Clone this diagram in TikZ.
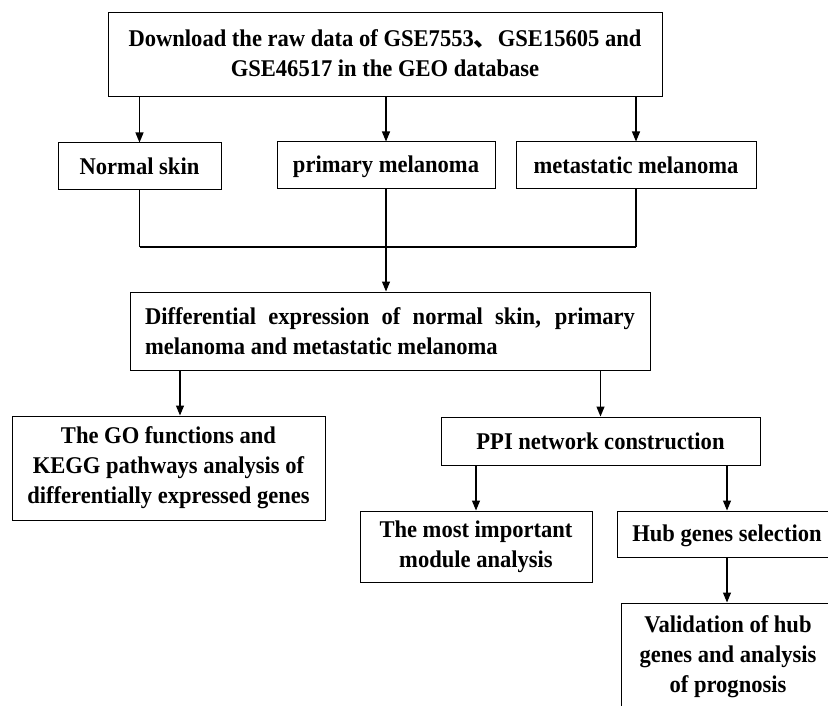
\documentclass[tikz,border=0pt]{standalone}
\usepackage{fontspec}
\setmainfont{Liberation Serif}[FakeStretch=0.94]
\newfontfamily\cjk{Noto Sans CJK SC}
\usetikzlibrary{arrows.meta,calc,positioning}
\newcommand{\boxstrut}{\rule[-4pt]{0pt}{24pt}}

\begin{document}
\begin{tikzpicture}[x=1pt,y=-1pt,>={Triangle[length=10pt,width=8pt]},
  box/.style={draw,line width=1pt,align=center,inner sep=0pt,
    font=\fontsize{24}{30}\selectfont\bfseries,
    execute at begin node=\boxstrut,execute at end node=\boxstrut},
  link/.style={line width=1.2pt}]
\useasboundingbox (0,0) rectangle (828,706);
\clip (0,0) rectangle (828,706);
% source data and the three sample groups
\node[box,minimum width=554pt,minimum height=84pt] (raw) at (385,55)
  {Download the raw data of GSE7553{\cjk 、}GSE15605 and\\GSE46517 in the GEO database};
\node[box,minimum width=163pt,minimum height=47pt] (skin) at (139.5,166.5) {Normal skin};
\node[box,minimum width=218pt,minimum height=47pt] (prim) at (386,165.5) {primary melanoma};
\node[box,minimum width=240pt,minimum height=47pt] (meta) at (636,165.5) {metastatic melanoma};
\coordinate (bus) at (386,247);
\draw[link,->] (raw.south -| skin.north) -- (skin.north);
\draw[link,->] (raw.south -| prim.north) -- (prim.north);
\draw[link,->] (raw.south -| meta.north) -- (meta.north);
\draw[link] (skin.south) -- (skin.south |- bus);
\draw[link] (meta.south) -- (meta.south |- bus);
\draw[line width=1.8pt] (skin.south |- bus) -- (meta.south |- bus);
% differential expression
\node[box,minimum width=520pt,minimum height=78pt,align=justify,text width=490pt] (deg) at (390,331)
  {Differential expression of normal skin, primary\linebreak melanoma and metastatic melanoma};
\draw[link,->] (prim.south) -- (prim.south |- deg.north);
\node[box,minimum width=313pt,minimum height=104pt] (go) at (168.5,468)
  {The GO functions and\\KEGG pathways analysis of\\differentially expressed genes};
\node[box,minimum width=319pt,minimum height=48pt] (ppi) at (600.5,441) {PPI network construction};
\draw[link,->] ([xshift=-210pt]deg.south) -- ([xshift=-210pt]deg.south |- go.north);
\draw[link,->] (deg.south -| ppi.north) -- (ppi.north);
% network branch
\node[box,minimum width=232pt,minimum height=71pt] (mod) at (476,546.5)
  {The most important\\module analysis};
\node[box,minimum width=220pt,minimum height=46pt] (hub) at (727,534) {Hub genes selection};
\node[box,minimum width=214pt,minimum height=108pt] (val) at (728,657)
  {Validation of hub\\genes and analysis\\of prognosis};
\draw[link,->] (ppi.south -| mod.north) -- (mod.north);
\draw[link,->] (ppi.south -| hub.north) -- (hub.north);
\draw[link,->] (hub.south) -- (hub.south |- val.north);
\end{tikzpicture}
\end{document}
